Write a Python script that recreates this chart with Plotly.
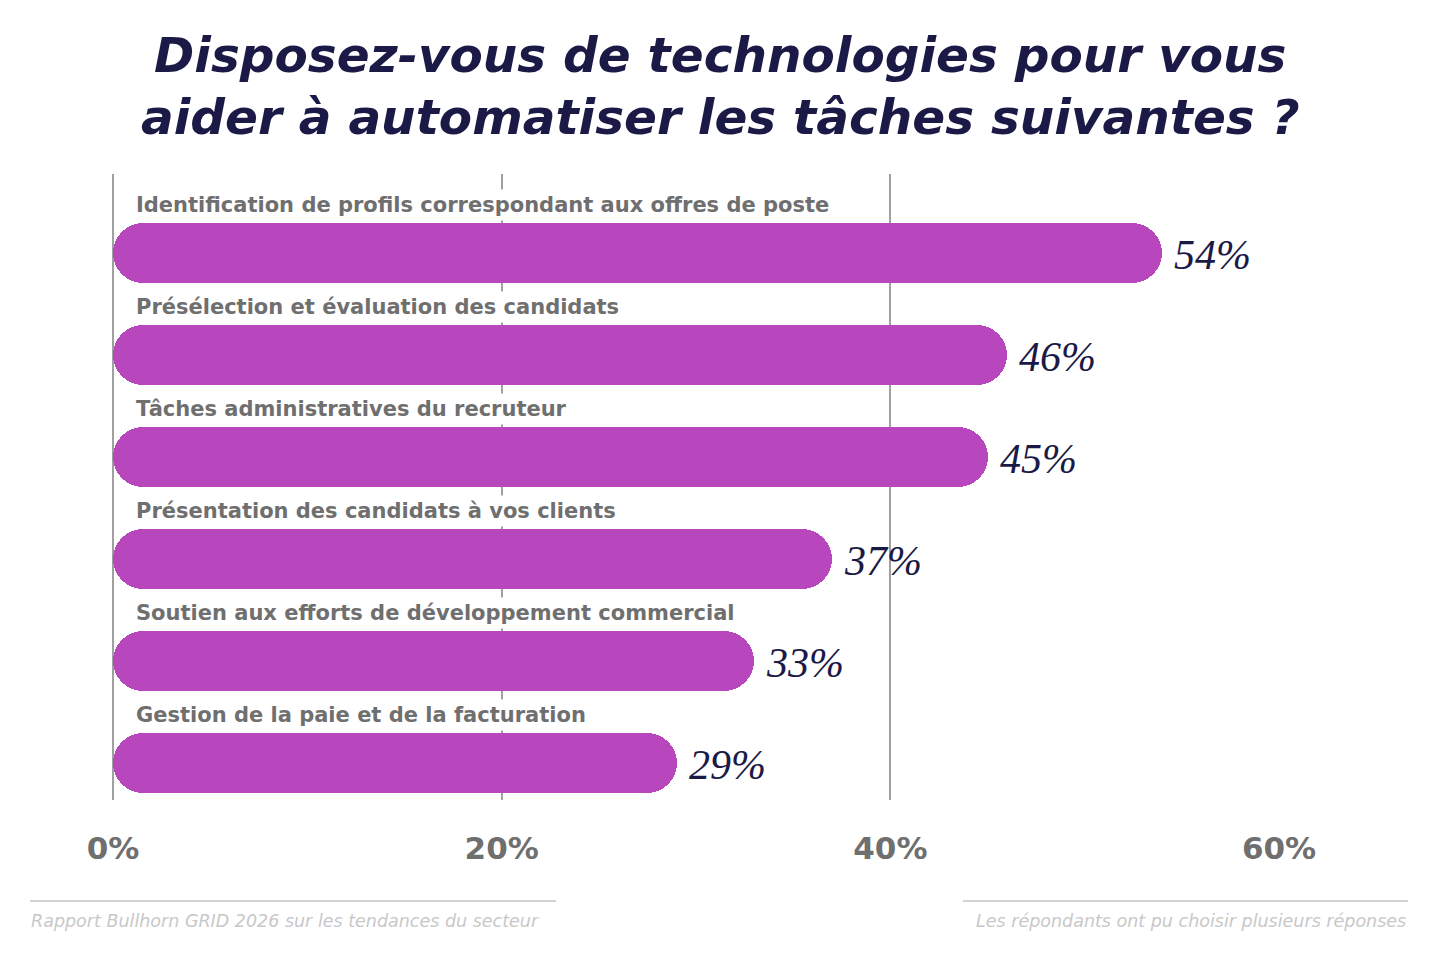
import plotly.graph_objects as go

categories = [
    "Identification de profils correspondant aux offres de poste",
    "Présélection et évaluation des candidats",
    "Tâches administratives du recruteur",
    "Présentation des candidats à vos clients",
    "Soutien aux efforts de développement commercial",
    "Gestion de la paie et de la facturation",
]
values = [54, 46, 45, 37, 33, 29]
tick_vals = [0, 20, 40, 60]
tick_text = ["0%", "20%", "40%", "60%"]

title_lines = ["Disposez-vous de technologies pour vous",
               "aider à automatiser les tâches suivantes ?"]
source_text = "Rapport Bullhorn GRID 2026 sur les tendances du secteur"
note_text = "Les répondants ont pu choisir plusieurs réponses"

W, H = 1440, 956
ML, MR, MT, MB = 113, 161, 174, 156
PW, PH = W - ML - MR, H - MT - MB

def px_x(x):
    return (x - ML) / PW

def px_y(y):
    return (H - MB - y) / PH

BAR = "#B847BE"
NAVY = "#1B1A46"
GRAY = "#6F6F6F"
SANS = "DejaVu Sans"

ypos = list(range(len(categories)))
bar_w = 0.59

fig = go.Figure()
fig.add_trace(go.Bar(
    x=values, y=ypos, base=0, orientation="h", width=bar_w,
    marker=dict(color=BAR, cornerradius=30, line=dict(width=0)),
    hoverinfo="skip", showlegend=False,
))
fig.add_trace(go.Bar(
    x=[-v for v in values], y=ypos, base=values, orientation="h", width=bar_w,
    marker=dict(color=BAR, cornerradius=30, line=dict(width=0)),
    hoverinfo="skip", showlegend=False,
))

annotations = []
for i, (c, v) in enumerate(zip(categories, values)):
    annotations.append(dict(
        x=0, y=i - 0.475, xref="x", yref="y", text=c, showarrow=False,
        xanchor="left", yanchor="middle", xshift=19,
        font=dict(family=SANS, size=21, color=GRAY, weight="bold"),
        bgcolor="white", borderpad=3,
    ))
    annotations.append(dict(
        x=v, y=i, xref="x", yref="y", text=f"{v}%", showarrow=False,
        xanchor="left", yanchor="middle", xshift=10, yshift=-2,
        font=dict(family="Liberation Serif", size=42, color=NAVY, style="italic"),
    ))

for k, line in enumerate(title_lines):
    annotations.append(dict(
        x=px_x(720), y=px_y(55 + 62 * k), xref="paper", yref="paper", text=line,
        showarrow=False, xanchor="center", yanchor="middle",
        font=dict(family=SANS, size=48.5, color=NAVY, weight="bold", style="italic"),
    ))

annotations.append(dict(
    x=px_x(29), y=px_y(921), xref="paper", yref="paper", text=source_text,
    showarrow=False, xanchor="left", yanchor="middle",
    font=dict(family=SANS, size=17.5, color="#C8C8C8", style="italic", weight=300),
))
annotations.append(dict(
    x=px_x(1408), y=px_y(921), xref="paper", yref="paper", text=note_text,
    showarrow=False, xanchor="right", yanchor="middle",
    font=dict(family=SANS, size=17.5, color="#C8C8C8", style="italic", weight=300),
))

shapes = [
    dict(type="line", xref="paper", yref="paper", x0=px_x(30), x1=px_x(556),
         y0=px_y(901), y1=px_y(901), line=dict(color="#D3D3D3", width=2)),
    dict(type="line", xref="paper", yref="paper", x0=px_x(963), x1=px_x(1408),
         y0=px_y(901), y1=px_y(901), line=dict(color="#D3D3D3", width=2)),
]

top = -(253 - 174) / 102
bottom = (len(categories) - 1) + (800 - 763) / 102

fig.update_layout(
    width=W, height=H,
    margin=dict(l=ML, r=MR, t=MT, b=MB),
    paper_bgcolor="white", plot_bgcolor="white",
    barmode="overlay", bargap=0,
    xaxis=dict(
        range=[0, 60], tickvals=tick_vals, ticktext=tick_text,
        showgrid=True, gridcolor="#A0A0A0", gridwidth=2,
        zeroline=True, zerolinecolor="#A0A0A0", zerolinewidth=2,
        showline=False, ticks="", ticklabelstandoff=27,
        tickfont=dict(family=SANS, size=31, color=GRAY, weight="bold"),
        fixedrange=True,
    ),
    yaxis=dict(
        range=[bottom, top], showgrid=False, zeroline=False, showticklabels=False,
        showline=False, ticks="", fixedrange=True,
    ),
    annotations=annotations,
    shapes=shapes,
    showlegend=False,
)

fig.write_html("out.html")
